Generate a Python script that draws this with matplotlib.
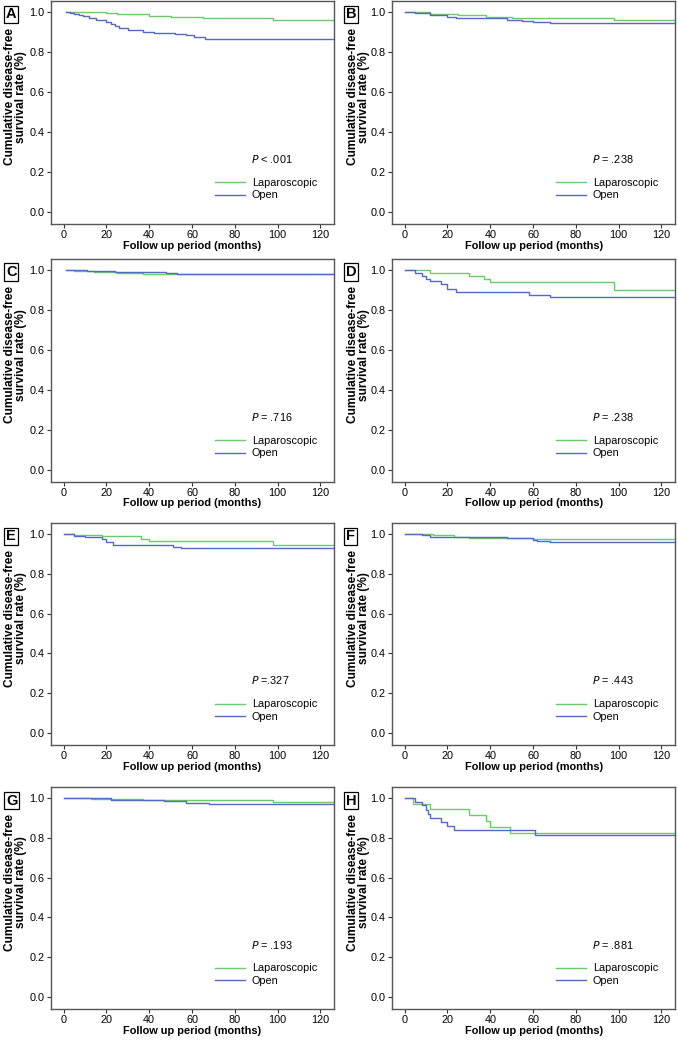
import matplotlib
matplotlib.use("Agg")
import matplotlib.pyplot as plt
from matplotlib.lines import Line2D

plt.rcParams['font.family'] = ['Liberation Sans', 'DejaVu Sans']

# panel letters and p-values
panels = ['A', 'B', 'C', 'D', 'E', 'F', 'G', 'H']
p_texts = ['< .001', '= .238', '= .716', '= .238', '=.327', '= .443', '= .193', '= .881']

# step curves (time in months, survival) for laparoscopic (green) and open (blue)
lap_t = [
    [1, 5, 20, 25, 40, 50, 65, 98, 126],
    [0, 12, 25, 38, 50, 98, 126],
    [1, 5, 14, 25, 37, 126],
    [0, 12, 30, 37, 40, 98, 126],
    [0, 5, 18, 36, 40, 98, 126],
    [0, 13, 23, 30, 48, 60, 126],
    [0, 13, 37, 98, 126],
    [0, 4, 12, 30, 38, 40, 49, 126],
]
lap_s = [
    [1.0, 0.998, 0.995, 0.99, 0.98, 0.975, 0.97, 0.96, 0.96],
    [1.0, 0.99, 0.985, 0.977, 0.97, 0.962, 0.962],
    [1.0, 0.997, 0.992, 0.987, 0.98, 0.978],
    [1.0, 0.985, 0.968, 0.953, 0.938, 0.9, 0.9],
    [1.0, 0.993, 0.988, 0.977, 0.965, 0.943, 0.943],
    [1.0, 0.993, 0.987, 0.982, 0.978, 0.975, 0.975],
    [1.0, 0.997, 0.99, 0.98, 0.98],
    [1.0, 0.97, 0.945, 0.915, 0.885, 0.855, 0.825, 0.825],
]
open_t = [
    [1, 3, 5, 7, 9, 12, 15, 17, 20, 22, 24, 26, 30, 33, 37, 42, 48, 52, 57, 61, 66, 126],
    [0, 5, 12, 20, 24, 48, 55, 60, 68, 126],
    [1, 11, 24, 48, 53, 56, 126],
    [0, 5, 8, 10, 12, 17, 20, 24, 58, 68, 126],
    [0, 5, 10, 18, 20, 23, 51, 55, 126],
    [0, 8, 12, 48, 60, 62, 68, 126],
    [0, 22, 47, 57, 68, 126],
    [0, 5, 8, 10, 11, 12, 17, 20, 23, 61, 126],
]
open_s = [
    [1.0, 0.995, 0.99, 0.983, 0.978, 0.97, 0.962, 0.958, 0.948, 0.942, 0.93, 0.92, 0.912, 0.908,
     0.9, 0.897, 0.893, 0.888, 0.883, 0.875, 0.867, 0.867],
    [1.0, 0.995, 0.985, 0.975, 0.968, 0.96, 0.955, 0.95, 0.945, 0.945],
    [1.0, 0.995, 0.99, 0.985, 0.98, 0.978, 0.978],
    [1.0, 0.985, 0.97, 0.955, 0.943, 0.928, 0.905, 0.89, 0.875, 0.862, 0.862],
    [1.0, 0.99, 0.985, 0.975, 0.96, 0.947, 0.937, 0.928, 0.928],
    [1.0, 0.993, 0.985, 0.978, 0.97, 0.967, 0.962, 0.962],
    [1.0, 0.99, 0.985, 0.977, 0.972, 0.972],
    [1.0, 0.98, 0.965, 0.94, 0.92, 0.9, 0.88, 0.86, 0.84, 0.815, 0.815],
]

green = '#6acb6a'
blue = '#5468c6'

fig = plt.figure(figsize=(6.78, 10.4), dpi=100)

lefts = [0.075, 0.578]
rows = [(0.785, 0.214), (0.537, 0.214), (0.284, 0.213), (0.030, 0.213)]

for i, name in enumerate(panels):
    r, c = divmod(i, 2)
    bottom, h = rows[r]
    ax = fig.add_axes([lefts[c], bottom, 0.418, h])
    ax.step(lap_t[i], lap_s[i], where='post', color=green, lw=1.0)
    ax.step(open_t[i], open_s[i], where='post', color=blue, lw=1.0)
    ax.set_xlim(-6, 126.5)
    ax.set_ylim(-0.06, 1.055)
    ax.set_xticks([0, 20, 40, 60, 80, 100, 120])
    ax.set_yticks([0.0, 0.2, 0.4, 0.6, 0.8, 1.0])
    ax.set_yticklabels(['0.0', '0.2', '0.4', '0.6', '0.8', '1.0'])
    ax.tick_params(labelsize=7.8, length=3, width=0.8, color='#333333', pad=1.5)
    for sp in ax.spines.values():
        sp.set_color('#555555')
        sp.set_linewidth(1.0)
    ax.set_xlabel('Follow up period (months)', fontsize=7.9, fontweight='bold', labelpad=0.5)
    ax.set_ylabel('Cumulative disease-free\nsurvival rate (%)', fontsize=8.6,
                  fontweight='bold', linespacing=0.88)
    ax.yaxis.set_label_coords(-0.085 if c == 0 else -0.078, 0.57)
    ax.text(0.705, 0.29, '$\\it{P}$ ' + p_texts[i], transform=ax.transAxes,
            fontsize=7.8, ha='left', va='center')
    handles = [Line2D([], [], color=green, lw=1.0), Line2D([], [], color=blue, lw=1.0)]
    ax.legend(handles, ['Laparoscopic', 'Open'], loc='lower left',
              bbox_to_anchor=(0.56, 0.08), frameon=False, fontsize=7.8,
              handlelength=2.8, handletextpad=0.6, labelspacing=0.2, borderpad=0)
    fig.text(lefts[c] - (0.066 if c == 0 else 0.068), bottom + h - 0.006, name,
             fontsize=10.5, fontweight='bold', ha='left', va='top',
             bbox=dict(boxstyle='square,pad=0.12', fc='white', ec='black', lw=0.9))

fig.savefig('out.png', dpi=100)
